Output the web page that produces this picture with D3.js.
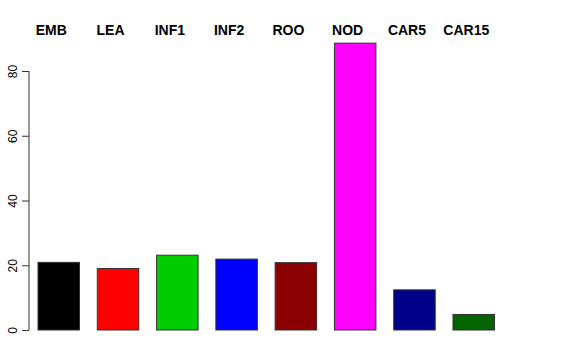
<!DOCTYPE html>
<html lang="en">
<head>
<meta charset="utf-8">
<title>Bar chart</title>
<script src="https://cdn.jsdelivr.net/npm/d3@7"></script>
<style>
  body { margin: 0; background: #fff; }
  text { font-family: "Liberation Sans", Arial, sans-serif; }
</style>
</head>
<body>
<script>
// data
var categories = ["EMB", "LEA", "INF1", "INF2", "ROO", "NOD", "CAR5", "CAR15"];
var values = [20.9, 19.0, 23.1, 21.9, 20.8, 88.6, 12.4, 4.8];
var colors = ["#000000", "#ff0000", "#00cd00", "#0000ff", "#8b0000", "#ff00ff", "#00008b", "#006400"];
var yTicks = [0, 20, 40, 60, 80];

var w = 576, h = 360;
var svg = d3.select("body").append("svg")
    .attr("width", w)
    .attr("height", h);

// x: bars with R-style spacing
var x = d3.scaleBand()
    .domain(categories)
    .range([38, 494.5])
    .paddingInner(0.3)
    .paddingOuter(0);

var y = d3.scaleLinear()
    .domain([0, 80])
    .range([330, 71]);

svg.selectAll("rect")
    .data(values)
    .enter()
    .append("rect")
    .attr("x", function(d, i) { return x(categories[i]); })
    .attr("y", function(d) { return y(d); })
    .attr("width", x.bandwidth())
    .attr("height", function(d) { return y(0) - y(d); })
    .attr("fill", function(d, i) { return colors[i]; })
    .attr("stroke", "#333")
    .attr("stroke-width", 1);

// labels above the plot
svg.selectAll("text.lab")
    .data(categories)
    .enter()
    .append("text")
    .attr("class", "lab")
    .attr("x", function(d) { return x(d) + x.bandwidth() / 2 - 7.5; })
    .attr("y", 35)
    .attr("text-anchor", "middle")
    .attr("font-size", "14px")
    .attr("font-weight", "bold")
    .text(function(d) { return d; });

// y axis
var axis = d3.axisLeft(y)
    .tickValues(yTicks)
    .tickSize(7)
    .tickPadding(4);

var g = svg.append("g")
    .attr("transform", "translate(29,0)")
    .call(axis);

g.select(".domain").attr("d", "M0," + y(0) + "V" + y(80)).attr("stroke", "#333");
g.selectAll(".tick line").attr("stroke", "#333");
g.selectAll(".tick text")
    .attr("font-family", "Liberation Sans, Arial, sans-serif")
    .attr("font-size", "12px")
    .attr("fill", "#000")
    .attr("text-anchor", "middle")
    .attr("dy", 0)
    .attr("x", 0)
    .attr("y", 0)
    .attr("transform", "translate(-12,0) rotate(-90)");
</script>
</body>
</html>
